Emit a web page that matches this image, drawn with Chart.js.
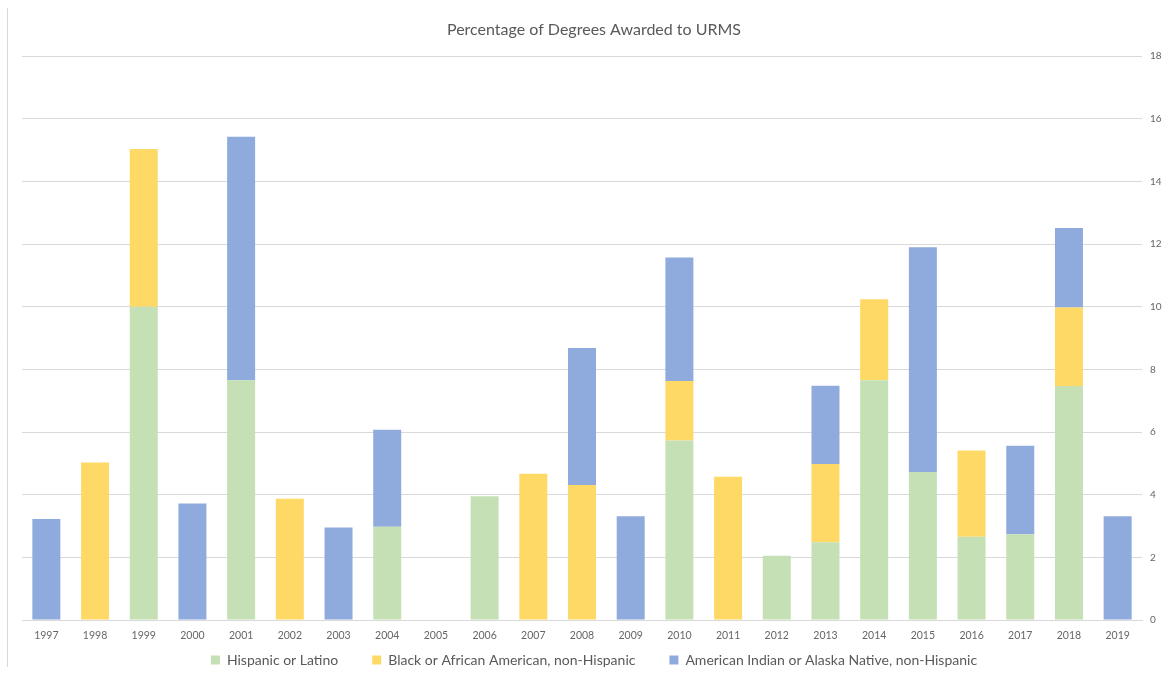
<!DOCTYPE html>
<html>
<head>
<meta charset="utf-8">
<title>Percentage of Degrees Awarded to URMS</title>
<script src="https://cdn.jsdelivr.net/npm/chart.js@4/dist/chart.umd.min.js"></script>
<style>
  html, body { margin: 0; padding: 0; background: #ffffff; }
  #wrap { position: relative; width: 1166px; height: 673px; }
</style>
</head>
<body>
<div id="wrap"><canvas id="chart" width="1166" height="673"></canvas></div>
<script>
// Award years
const years = ['1997','1998','1999','2000','2001','2002','2003','2004','2005','2006','2007','2008',
               '2009','2010','2011','2012','2013','2014','2015','2016','2017','2018','2019'];

// Share of degrees (percent) per group, stacked per year
const hispanic = [0, 0, 10.0, 0, 7.65, 0, 0, 2.98, 0, 3.95, 0, 0,
                  0, 5.73, 0, 2.05, 2.48, 7.65, 4.72, 2.66, 2.74, 7.47, 0];
const black    = [0, 5.03, 5.03, 0, 0, 3.87, 0, 0, 0, 0, 4.67, 4.31,
                  0, 1.9, 4.57, 0, 2.5, 2.59, 0, 2.75, 0, 2.5, 0];
const nativeAm = [3.22, 0, 0, 3.72, 7.77, 0, 2.95, 3.09, 0, 0, 0, 4.37,
                  3.31, 3.94, 0, 0, 2.5, 0, 7.18, 0, 2.82, 2.54, 3.31];

const seriesNames = ['Hispanic or Latino',
                     'Black or African American, non-Hispanic',
                     'American Indian or Alaska Native, non-Hispanic'];
const seriesColors = ['#C5E0B4', '#FFD966', '#8FAADC'];

const yTicks = [0, 2, 4, 6, 8, 10, 12, 14, 16, 18];

const FONT = "Lato, 'Open Sans', sans-serif";

// Thin frame edge on the left side of the chart panel
const frameEdge = {
  id: 'frameEdge',
  beforeDraw(chart) {
    const ctx = chart.ctx;
    ctx.save();
    ctx.strokeStyle = '#d9d9d9';
    ctx.lineWidth = 1;
    ctx.beginPath();
    ctx.moveTo(7.5, 8);
    ctx.lineTo(7.5, 667);
    ctx.stroke();
    ctx.restore();
  }
};

const legendGap = '\u2003\u2003\u2002';

new Chart(document.getElementById('chart'), {
  type: 'bar',
  data: {
    labels: years,
    datasets: [hispanic, black, nativeAm].map((values, i) => ({
      label: seriesNames[i],
      data: values,
      backgroundColor: seriesColors[i],
      borderWidth: 0,
      barPercentage: 0.575,
      categoryPercentage: 1.0
    }))
  },
  options: {
    responsive: false,
    animation: false,
    layout: { padding: { left: 22, right: 0, top: 0, bottom: -4 } },
    plugins: {
      title: {
        display: true,
        text: 'Percentage of Degrees Awarded to URMS',
        color: '#595959',
        font: { family: FONT, size: 16, weight: 'normal', lineHeight: 1.2 },
        padding: { top: 20, bottom: 16.8 }
      },
      legend: {
        position: 'bottom',
        labels: {
          color: '#595959',
          font: { family: FONT, size: 14 },
          boxWidth: 9,
          boxHeight: 9,
          padding: 6,
          generateLabels(chart) {
            const items = Chart.defaults.plugins.legend.labels.generateLabels(chart);
            items.forEach((it, i) => {
              it.lineWidth = 0;
              if (i < items.length - 1) it.text = it.text + legendGap;
            });
            return items;
          }
        }
      },
      tooltip: { enabled: false }
    },
    scales: {
      x: {
        stacked: true,
        grid: { display: false, drawTicks: false },
        border: { display: true, color: '#d9d9d9', width: 1 },
        ticks: {
          color: '#666666',
          font: { family: FONT, size: 10.5 },
          padding: 9,
          maxRotation: 0,
          autoSkip: false
        },
        afterFit(scale) { scale.height = 27; }
      },
      y: {
        stacked: true,
        position: 'right',
        min: 0,
        max: 18,
        afterBuildTicks(scale) { scale.ticks = yTicks.map(v => ({ value: v })); },
        grid: { color: '#d9d9d9', lineWidth: 1, drawTicks: false },
        border: { display: false },
        ticks: {
          color: '#666666',
          font: { family: FONT, size: 10 },
          padding: 8
        },
        afterFit(scale) { scale.width = 24; }
      }
    }
  },
  plugins: [frameEdge]
});
</script>
</body>
</html>
